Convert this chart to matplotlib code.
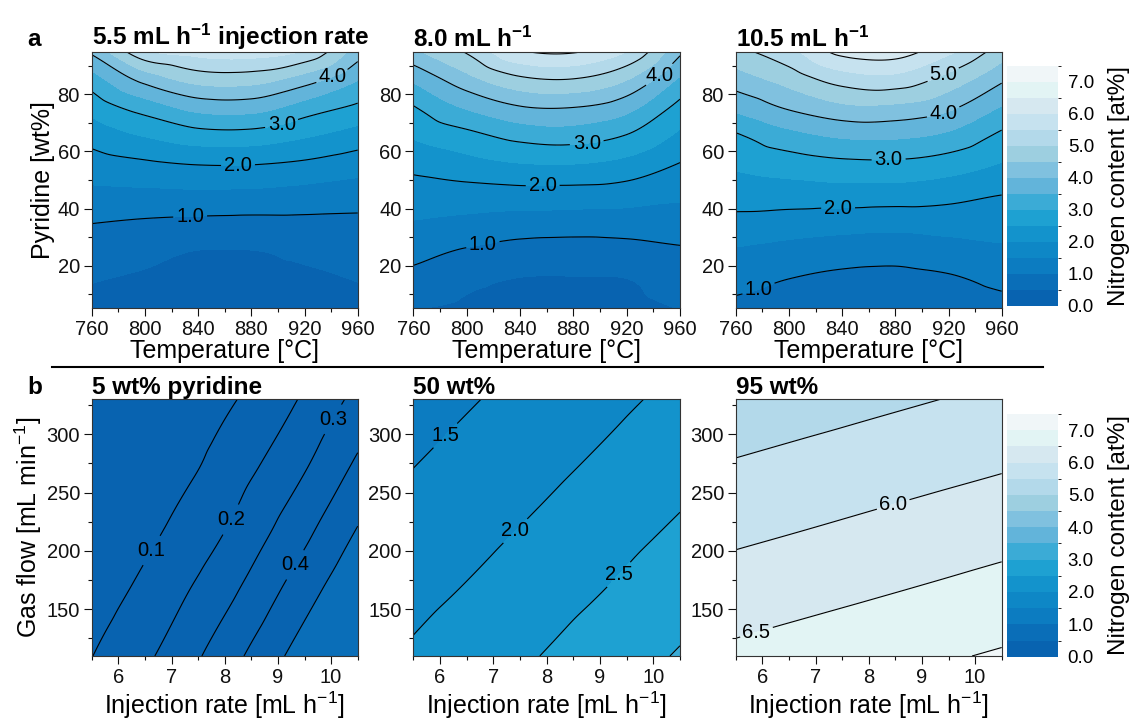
import numpy as np
import matplotlib
matplotlib.use("Agg")
from matplotlib import pyplot as plt
import matplotlib.tri as mtri
from matplotlib.colors import ListedColormap, BoundaryNorm
from matplotlib.lines import Line2D
from matplotlib.ticker import MultipleLocator

plt.rcParams['font.family'] = ['Liberation Sans', 'DejaVu Sans']
plt.rcParams['mathtext.fontset'] = 'custom'
plt.rcParams['mathtext.rm'] = 'Liberation Sans'
plt.rcParams['mathtext.it'] = 'Liberation Sans:italic'
plt.rcParams['mathtext.bf'] = 'Liberation Sans:bold'


# --- data ---

# row a: nitrogen content [at%] vs temperature (columns) and pyridine (rows)
temperature = [760, 800, 840, 880, 920, 960]
pyridine = [5, 15, 25, 35, 45, 55, 65, 75, 85, 95]

nitrogen_inj_55 = [
    [0.42, 0.36, 0.30, 0.30, 0.35, 0.42],
    [0.52, 0.45, 0.40, 0.40, 0.44, 0.51],
    [0.76, 0.62, 0.49, 0.49, 0.58, 0.70],
    [1.01, 0.94, 0.89, 0.87, 0.89, 0.90],
    [1.38, 1.39, 1.41, 1.39, 1.32, 1.24],
    [1.76, 1.88, 1.98, 1.98, 1.88, 1.71],
    [2.17, 2.49, 2.74, 2.75, 2.52, 2.25],
    [2.66, 3.18, 3.63, 3.66, 3.24, 2.88],
    [3.25, 4.14, 4.66, 4.68, 4.22, 3.51],
    [4.10, 5.40, 5.70, 5.75, 5.45, 4.25],
]
nitrogen_inj_80 = [
    [0.52, 0.42, 0.36, 0.35, 0.38, 0.51],
    [0.84, 0.60, 0.48, 0.47, 0.49, 0.72],
    [1.16, 0.95, 0.81, 0.78, 0.83, 0.94],
    [1.47, 1.37, 1.28, 1.25, 1.24, 1.25],
    [1.78, 1.80, 1.82, 1.80, 1.75, 1.60],
    [2.12, 2.29, 2.44, 2.46, 2.31, 1.95],
    [2.53, 2.82, 3.12, 3.19, 2.94, 2.38],
    [2.94, 3.52, 3.92, 3.96, 3.64, 2.82],
    [3.56, 4.30, 4.86, 4.95, 4.50, 3.40],
    [4.40, 5.05, 5.95, 6.05, 5.50, 4.10],
]
nitrogen_inj_105 = [
    [0.85, 0.70, 0.62, 0.60, 0.68, 0.82],
    [1.18, 0.99, 0.88, 0.85, 0.93, 1.12],
    [1.45, 1.33, 1.23, 1.19, 1.29, 1.41],
    [1.85, 1.77, 1.71, 1.67, 1.71, 1.71],
    [2.22, 2.26, 2.28, 2.26, 2.17, 2.01],
    [2.57, 2.72, 2.84, 2.86, 2.72, 2.44],
    [2.91, 3.30, 3.53, 3.55, 3.36, 2.87],
    [3.59, 4.03, 4.35, 4.35, 4.07, 3.44],
    [4.24, 4.68, 5.19, 5.29, 4.79, 4.07],
    [4.85, 5.35, 6.15, 6.25, 5.60, 4.75],
]

# row b: nitrogen content vs injection rate (columns) and gas flow (rows)
injection = [5.5, 6.75, 8.0, 9.25, 10.5]
gas_flow = [110, 165, 220, 275, 330]

nitrogen_pyr_5 = [
    [0.098, 0.206, 0.354, 0.516, 0.678],
    [0.048, 0.147, 0.271, 0.428, 0.590],
    [0.010, 0.091, 0.196, 0.341, 0.502],
    [0.010, 0.040, 0.138, 0.259, 0.414],
    [0.010, 0.010, 0.083, 0.187, 0.328],
]
nitrogen_pyr_50 = [
    [2.064, 2.293, 2.525, 2.781, 3.039],
    [1.866, 2.077, 2.306, 2.540, 2.796],
    [1.676, 1.878, 2.091, 2.320, 2.555],
    [1.486, 1.688, 1.890, 2.104, 2.333],
    [1.307, 1.497, 1.699, 1.902, 2.118],
]
nitrogen_pyr_95 = [
    [6.601, 6.714, 6.826, 6.938, 7.050],
    [6.235, 6.343, 6.451, 6.561, 6.673],
    [5.878, 5.982, 6.089, 6.197, 6.305],
    [5.530, 5.634, 5.737, 5.841, 5.944],
    [5.182, 5.285, 5.389, 5.492, 5.596],
]

band_levels = [0.0, 0.5, 1.0, 1.5, 2.0, 2.5, 3.0, 3.5, 4.0, 4.5, 5.0, 5.5, 6.0, 6.5, 7.0, 7.5]
band_colors = ['#0863b0', '#0a6eb8', '#0c7cc1', '#0e87c6', '#1393cc', '#1ea1d2',
               '#3babd6', '#62b4da', '#80c1df', '#9dcfe0', '#b3d9ea', '#c6e2ef',
               '#d6e8f0', '#e2f4f4', '#f0f6f8']
cbar_ticks = [0, 1, 2, 3, 4, 5, 6, 7]

# labelled contour lines (with label spots) and plain ones
top_titles = [r'5.5 mL h$^{\mathbf{-1}}$ injection rate', r'8.0 mL h$^{\mathbf{-1}}$', r'10.5 mL h$^{\mathbf{-1}}$']
top_labelled = [[1, 2, 3, 4], [1, 2, 3, 4], [1, 2, 3, 4, 5]]
top_plain = [[5], [5, 6], [6]]
top_label_spots = [
    [(834, 37.7), (870, 55.2), (903, 69.4), (939, 88.6)],
    [(812, 27.8), (857, 49.1), (890, 63.3), (943, 88.0)],
    [(779, 9.5), (837, 40.4), (875, 56.6), (915, 75.3), (915, 88.0)],
]

bottom_titles = ['5 wt% pyridine', '50 wt%', '95 wt%']
bottom_labelled = [[0.1, 0.2, 0.3, 0.4], [1.5, 2.0, 2.5], [6.0, 6.5]]
bottom_plain = [[0.5], [3.0], [5.5, 7.0]]
bottom_label_spots = [
    [(6.53, 203), (8.11, 227), (10.07, 312), (9.29, 189)],
    [(6.12, 298), (7.44, 216), (9.37, 179)],
    [(8.46, 240), (5.9, 129)],
]


W, H = 1132, 722
cmap = ListedColormap(band_colors)
norm = BoundaryNorm(band_levels, cmap.N)

TICK_FS = 14.5
LABEL_FS = 18
TITLE_FS = 17.5


def px_axes(fig, x0, y0, x1, y1):
    # pixel box (top-left origin) -> figure axes
    return fig.add_axes([x0 / W, 1 - y1 / H, (x1 - x0) / W, (y1 - y0) / H])


def smooth_field(x, y, z):
    # let matplotlib refine the read grid so contours come out smooth
    X, Y = np.meshgrid(x, y)
    xs = (X.ravel() - x[0]) / (x[-1] - x[0])
    ys = (Y.ravel() - y[0]) / (y[-1] - y[0])
    tri = mtri.Triangulation(xs, ys)
    interp = mtri.CubicTriInterpolator(tri, np.array(z).ravel(), kind='geom')
    tri_f, z_f = mtri.UniformTriRefiner(tri).refine_field(np.array(z).ravel(), triinterpolator=interp, subdiv=4)
    tri_f = mtri.Triangulation(x[0] + tri_f.x * (x[-1] - x[0]), y[0] + tri_f.y * (y[-1] - y[0]), tri_f.triangles)
    return tri_f, z_f


def draw_panel(ax, x, y, z, labelled, plain, spots, title):
    tri_f, z_f = smooth_field(x, y, z)
    cf = ax.tricontourf(tri_f, z_f, levels=band_levels, cmap=cmap, norm=norm)
    ax.tricontour(tri_f, z_f, levels=plain, colors='black', linewidths=0.8)
    cs = ax.tricontour(tri_f, z_f, levels=labelled, colors='black', linewidths=0.8)
    texts = ax.clabel(cs, fmt='%.1f', fontsize=14.5, inline=True, inline_spacing=3, manual=spots)
    for t in texts:
        t.set_rotation(0)
    ax.set_title(title, loc='left', fontsize=TITLE_FS, fontweight='bold', pad=3)
    ax.tick_params(which='both', direction='out', labelsize=TICK_FS, width=0.8, colors='#111111', pad=2.5)
    ax.tick_params(which='major', length=6)
    ax.tick_params(which='minor', length=3)
    for s in ax.spines.values():
        s.set_linewidth(0.8)
        s.set_color('#333333')
    return cf


def add_cbar(fig, cf, y0, y1):
    cax = px_axes(fig, 1007, y0, 1058, y1)
    cb = fig.colorbar(cf, cax=cax, ticks=cbar_ticks, format='%.1f')
    cb.outline.set_visible(False)
    cb.ax.tick_params(length=0, pad=7, labelsize=13.5)
    cb.set_label('Nitrogen content [at%]', fontsize=17.5, labelpad=10)


fig = plt.figure(figsize=(W / 100, H / 100), dpi=100)

top_fields = [nitrogen_inj_55, nitrogen_inj_80, nitrogen_inj_105]
bottom_fields = [nitrogen_pyr_5, nitrogen_pyr_50, nitrogen_pyr_95]
lefts = [(91.7, 357.7), (413.3, 680.0), (735.7, 1001.7)]

for i, (x0, x1) in enumerate(lefts):
    ax = px_axes(fig, x0, 51.7, x1, 308.3)
    cf = draw_panel(ax, temperature, pyridine, top_fields[i], top_labelled[i],
                    top_plain[i], top_label_spots[i], top_titles[i])
    ax.set_xlim(760, 960)
    ax.set_ylim(5, 95)
    ax.xaxis.set_major_locator(MultipleLocator(40))
    ax.xaxis.set_minor_locator(MultipleLocator(20))
    ax.yaxis.set_major_locator(MultipleLocator(20))
    ax.yaxis.set_minor_locator(MultipleLocator(10))
    ax.set_xlabel('Temperature [°C]', fontsize=LABEL_FS, labelpad=0)
    if i == 0:
        ax.set_ylabel('Pyridine [wt%]', fontsize=LABEL_FS, labelpad=2)
add_cbar(fig, cf, 65.7, 306)

for i, (x0, x1) in enumerate(lefts):
    ax = px_axes(fig, x0, 399.3, x1, 656.0)
    cf = draw_panel(ax, injection, gas_flow, bottom_fields[i], bottom_labelled[i],
                    bottom_plain[i], bottom_label_spots[i], bottom_titles[i])
    ax.set_xlim(5.5, 10.5)
    ax.set_ylim(110, 330)
    ax.xaxis.set_major_locator(MultipleLocator(1))
    ax.xaxis.set_minor_locator(MultipleLocator(0.5))
    ax.yaxis.set_major_locator(MultipleLocator(50))
    ax.yaxis.set_minor_locator(MultipleLocator(25))
    ax.set_xlabel(r'Injection rate [mL h$^{-1}$]', fontsize=LABEL_FS, labelpad=2)
    if i == 0:
        ax.set_ylabel(r'Gas flow [mL min$^{-1}$]', fontsize=LABEL_FS, labelpad=2)
add_cbar(fig, cf, 414.0, 656.7)

fig.text(27 / W, 1 - 40 / H, 'a', fontsize=TITLE_FS, fontweight='bold', va='center')
fig.text(27 / W, 1 - 387 / H, 'b', fontsize=TITLE_FS, fontweight='bold', va='center')
fig.add_artist(Line2D([52 / W, 1043 / W], [1 - 367 / H, 1 - 367 / H], transform=fig.transFigure,
                      color='black', linewidth=1.5))

fig.savefig('out.png', dpi=100)
